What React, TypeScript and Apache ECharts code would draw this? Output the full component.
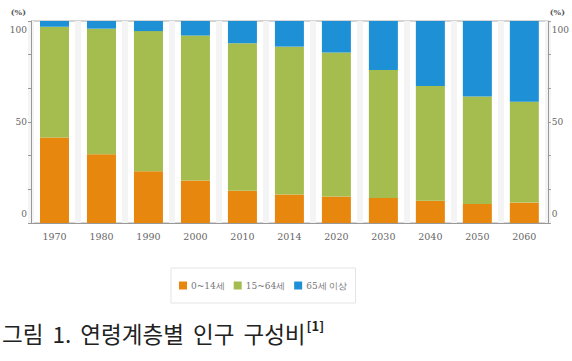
import React, { useEffect, useRef } from "react";
import * as echarts from "echarts";

const categories = ["1970", "1980", "1990", "2000", "2010", "2014", "2020", "2030", "2040", "2050", "2060"];
const age0to14 = [42.3, 34.0, 25.6, 21.0, 16.0, 14.1, 13.1, 12.4, 11.0, 9.4, 10.1];
const age15to64 = [54.8, 62.2, 69.4, 71.8, 73.0, 73.2, 71.3, 63.3, 56.8, 53.2, 49.9];
const age65plus = [2.9, 3.8, 5.0, 7.2, 11.0, 12.7, 15.6, 24.3, 32.2, 37.4, 40.0];
const seriesNames = ["0~14세", "15~64세", "65세 이상"];
const yTicks = [0, 50, 100];
const titleWords = ["그림", "1.", "연령계층별", "인구", "구성비"];
const titleNote = "[1]";

const serif = "'DejaVu Serif', 'Liberation Serif', serif";
const kr = "'Noto Sans CJK KR', sans-serif";

export default function App() {
  const ref = useRef<HTMLDivElement>(null);
  useEffect(() => {
    document.body.style.margin = "0";
    const chart = echarts.init(ref.current!, null, { renderer: "svg" });
    const labelFmt = (v: number) =>
      v === yTicks[0] ? `{lo|${v}}` : v === yTicks[2] ? `{hi|${v}}` : `{m|${v}}`;
    const labelRich = {
      lo: { fontSize: 9, fontFamily: serif, color: "#666", padding: [0, 0, 18, 0] },
      hi: { fontSize: 9, fontFamily: serif, color: "#666", padding: [18, 0, 0, 0] },
      m: { fontSize: 9, fontFamily: serif, color: "#666" },
    };
    const yAxisBase = (pos: "left" | "right") => ({
      type: "value",
      position: pos,
      min: 0,
      max: 100,
      interval: 50,
      name: "(%)",
      nameLocation: "end",
      nameGap: 5,
      nameTextStyle: {
        fontSize: 8,
        fontWeight: "bold",
        color: "#555",
        fontFamily: serif,
        align: pos === "left" ? "right" : "left",
        padding: pos === "left" ? [0, 5, 0, 0] : [0, 0, 0, 2],
      },
      axisLine: { show: true, lineStyle: { color: "#999", width: 1 } },
      axisTick: { show: true, length: 3, lineStyle: { color: "#999" } },
      minorTick: { show: true, splitNumber: 3, length: 3, lineStyle: { color: "#999" } },
      splitLine: { show: false },
      axisLabel: { margin: 4, formatter: labelFmt, rich: labelRich },
    });
    const colors = ["#e8870e", "#a5bd4e", "#1e90d6"];
    const data = [age0to14, age15to64, age65plus];
    const titleText =
      titleWords.map((w) => `{a|${w}}`).join("{s| }") + `{b|${titleNote}}`;
    chart.setOption({
      animation: false,
      title: {
        text: titleText,
        left: -3,
        top: 314,
        textStyle: {
          rich: {
            a: { fontSize: 22.5, fontFamily: kr, color: "#222", fontWeight: "normal" },
            s: { fontSize: 22.5, fontFamily: kr, color: "#222", padding: [0, 2, 0, 2] },
            b: { fontSize: 13, fontFamily: kr, color: "#222", padding: [0, 0, 14, 1] },
          },
        },
      },
      legend: {
        data: seriesNames,
        left: 171,
        top: 268,
        icon: "rect",
        itemWidth: 8,
        itemHeight: 8,
        itemGap: 9,
        padding: [13, 8, 13, 8],
        borderColor: "#e4e4e4",
        borderWidth: 1,
        textStyle: { fontSize: 9, color: "#777", fontFamily: serif, padding: [0, 0, 0, -1] },
      },
      grid: { left: 31, right: 22, top: 21, height: 202, show: true, borderColor: "#aaa", borderWidth: 1, backgroundColor: "transparent" },
      xAxis: {
        type: "category",
        data: categories,
        axisLine: { show: true, lineStyle: { color: "#999" } },
        axisTick: { show: false },
        splitLine: { show: true, lineStyle: { color: "#f4f4f4", width: 6 } },
        axisLabel: { fontSize: 9.5, color: "#666", fontFamily: serif, margin: 8 },
      },
      yAxis: [yAxisBase("left"), yAxisBase("right")],
      series: seriesNames.map((name, i) => ({
        name,
        type: "bar",
        stack: "total",
        barWidth: 29,
        yAxisIndex: 0,
        itemStyle: { color: colors[i] },
        data: data[i],
      })),
    });
    return () => chart.dispose();
  }, []);
  return <div ref={ref} style={{ width: 572, height: 361 }} />;
}
